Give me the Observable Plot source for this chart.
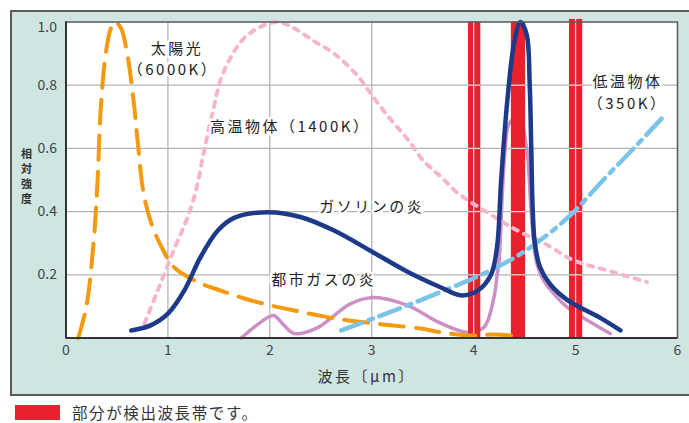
<!DOCTYPE html>
<html><head><meta charset="utf-8">
<script src="https://cdn.jsdelivr.net/npm/d3@7"></script>
<script src="https://cdn.jsdelivr.net/npm/@observablehq/plot@0.6"></script>
<style>
body{margin:0;background:#fff;font-family:"Noto Sans CJK JP","Noto Sans",sans-serif;}
#wrap{position:relative;width:689px;height:423px;overflow:hidden;background:#fff;}
#panel{position:absolute;left:10px;top:10px;width:700px;height:386px;background:#cfe5e2;border:2px solid #5a5a5a;border-right:none;box-sizing:border-box;}
#chart{position:absolute;left:12px;top:12px;}
#legend{position:absolute;left:15px;top:404px;height:16px;display:flex;align-items:center;font-size:15.5px;line-height:16px;color:#333;letter-spacing:1.6px;}
#legend .sw{width:45px;height:15px;background:#e8212c;margin-right:12px;flex:none;}
</style></head>
<body>
<div id="wrap"><div id="panel"></div><div id="chart"></div>
<div id="legend"><div class="sw"></div><span id="legtext"></span></div></div>
<script>
// ---- data ----
const xTicks = [0,1,2,3,4,5,6];
const yTicks = [0.2,0.4,0.6,0.8];
const yTopTick = [1.0];
const gridXs = [1,2,3,4,5];
const gridYs = [0.2,0.4,0.6,0.8];

const bandStart = [3.95,4.37,4.94];
const bandEnd   = [4.07,4.51,5.07];
const bandTop   = [1.0,1.0,1.008];

const sunX = [0.12,0.2,0.27,0.31,0.34,0.39,0.44,0.48,0.54,0.6,0.66,0.71,0.76,0.84,0.95,1.06,1.32,1.52,1.75,2.01,2.24,2.5,2.76,3.0,3.19,3.48,3.68,3.94,4.2,4.46];
const sunY = [0,0.1,0.3,0.5,0.72,0.9,0.98,1.0,0.98,0.9,0.76,0.6,0.46,0.36,0.28,0.224,0.173,0.15,0.125,0.103,0.087,0.07,0.056,0.047,0.04,0.03,0.018,0.008,0.011,0.005];

const hotX = [0.77,0.9,1.06,1.19,1.27,1.36,1.45,1.52,1.62,1.75,1.91,2.08,2.24,2.43,2.63,2.86,3.02,3.19,3.35,3.51,3.68,3.84,4.17,4.43,4.69,4.98,5.31,5.7];
const hotY = [0.046,0.15,0.28,0.38,0.46,0.6,0.73,0.82,0.89,0.95,0.985,1.0,0.98,0.94,0.9,0.83,0.76,0.69,0.63,0.56,0.51,0.46,0.39,0.34,0.3,0.246,0.214,0.177];

const coldX = [2.7,3.0,3.35,3.76,4.1,4.48,4.92,5.3,5.57,5.86];
const coldY = [0.024,0.06,0.103,0.157,0.204,0.27,0.38,0.51,0.6,0.70];

const gasX = [0.64,0.83,1.0,1.16,1.32,1.49,1.65,1.98,2.3,2.63,3.02,3.35,3.68,3.87,4.04,4.17,4.23,4.27,4.33,4.4,4.46,4.52,4.55,4.565,4.58,4.6,4.65,4.75,4.92,5.25,5.44];
const gasY = [0.024,0.04,0.077,0.15,0.256,0.34,0.38,0.398,0.383,0.34,0.27,0.21,0.16,0.135,0.15,0.2,0.29,0.5,0.75,0.94,1.0,0.96,0.8,0.6,0.4,0.3,0.225,0.17,0.12,0.062,0.024];

const cityX = [1.72,1.85,1.98,2.04,2.14,2.24,2.47,2.79,3.02,3.35,3.68,3.94,4.1,4.2,4.23,4.25,4.28,4.31,4.35,4.44,4.52,4.56,4.59,4.62,4.69,4.82,4.92,5.34];
const cityY = [0,0.035,0.065,0.071,0.04,0.014,0.033,0.108,0.128,0.103,0.046,0.018,0.033,0.13,0.2,0.245,0.45,0.6,0.68,0.7,0.6,0.42,0.3,0.236,0.18,0.128,0.097,0.014];

const labelText = ["太陽光","（6000K）","高温物体（1400K）","低温物体","（350K）","ガソリンの炎","都市ガスの炎"];
const labelX = [1.09,1.05,2.2,5.51,5.51,3.0,2.53];
const labelY = [0.913,0.846,0.668,0.808,0.741,0.414,0.183];

const yLabel = "相対強度";
const xLabel = "波長〔μm〕";
const legendText = "部分が検出波長帯です。";

// ---- build ----
const toRows = (xs, ys) => xs.map((x,i)=>({x, y: ys[i]}));
const bands = bandStart.map((s,i)=>({x1:s, x2:bandEnd[i], y2:bandTop[i]}));
const bandGridV = [];
const bandGridH = [];
bands.forEach(b=>{
  gridXs.forEach(g=>{ if (g>b.x1 && g<b.x2) bandGridV.push({x:g, y2:b.y2}); });
  gridYs.forEach(g=>bandGridH.push({y:g, x1:b.x1, x2:b.x2}));
});
const labels = labelText.map((t,i)=>({t, x:labelX[i], y:labelY[i]}));
const font = '"Noto Sans CJK JP","Noto Sans",sans-serif';
const gridColor = "#b4b4b4";

const chart = Plot.plot({
  width: 677, height: 382,
  marginLeft: 53.5, marginRight: 12, marginTop: 9.5, marginBottom: 56.5,
  style: {background: "transparent", fontFamily: font, overflow: "visible"},
  x: {domain: [0,6]},
  y: {domain: [0,1]},
  marks: [
    Plot.frame({fill: "white"}),
    Plot.gridX(gridXs, {stroke: gridColor, strokeOpacity: 1, strokeWidth: 1.3}),
    Plot.gridY(gridYs, {stroke: gridColor, strokeOpacity: 1, strokeWidth: 1.3}),
    Plot.line(toRows(cityX, cityY), {x:"x", y:"y", stroke:"#cc8fc6", strokeWidth:3.5, curve:"catmull-rom"}),
    Plot.rect(bands, {x1:"x1", x2:"x2", y1:0, y2:"y2", fill:"#e8212c"}),
    Plot.ruleX(bandGridV, {x:"x", y1:0, y2:"y2", stroke:"#d9d9d9", strokeWidth:1.3}),
    Plot.ruleY(bandGridH, {y:"y", x1:"x1", x2:"x2", stroke:"#d9d9d9", strokeWidth:1.3}),
    Plot.line(toRows(sunX, sunY), {x:"x", y:"y", stroke:"#f39a10", strokeWidth:4, strokeDasharray:"24,12", curve:"catmull-rom"}),
    Plot.line(toRows(hotX, hotY), {x:"x", y:"y", stroke:"#f5b5cf", strokeWidth:4, strokeDasharray:"5,7", curve:"catmull-rom"}),
    Plot.line(toRows(coldX, coldY), {x:"x", y:"y", stroke:"#7cc3ea", strokeWidth:4.5, strokeDasharray:"22,7,5,7", curve:"catmull-rom"}),
    Plot.line(toRows(gasX, gasY), {x:"x", y:"y", stroke:"#1d3a8a", strokeWidth:4.5, curve:"catmull-rom"}),
    Plot.frame({stroke: "#5a5a5a", strokeWidth: 1.5}),
    Plot.ruleX([0], {stroke:"#333", strokeWidth:2}),
    Plot.ruleY([0], {stroke:"#333", strokeWidth:2}),
    Plot.axisY(yTicks, {tickSize:0, tickPadding:9, tickFormat: d3.format(".1f"), fontSize:14, color:"#444", label:null}),
    Plot.axisY(yTopTick, {tickSize:0, tickPadding:9, tickFormat: d3.format(".1f"), fontSize:14, color:"#444", label:null, dy:6}),
    Plot.axisX(xTicks, {tickSize:0, tickPadding:7, fontSize:14, color:"#444", label:null}),
    Plot.text(labels, {x:"x", y:"y", text:"t", fontSize:15, fill:"#222", stroke:"white", strokeWidth:5, fontFamily: font}),
    Plot.text([yLabel], {text: d => d.split("").join("\n"), y: 0.5, frameAnchor:"left", dx:-45, dy:-4, fontSize:11, fontWeight:"bold", lineHeight:1.35, fill:"#333", fontFamily: font}),
    Plot.text([xLabel], {text: d => d, x: 2.95, frameAnchor:"bottom", dy:44, fontSize:15, fill:"#333", fontFamily: font})
  ]
});
// widen character spacing of the annotation texts and the x-axis label
const textGroups = chart.querySelectorAll('g[aria-label="text"]');
textGroups.forEach((g, i) => {
  const n = textGroups.length;
  if (i === 0 || i === n - 1) g.querySelectorAll("text").forEach(t => t.setAttribute("letter-spacing", "2.5"));
});
document.getElementById("chart").appendChild(chart);
document.getElementById("legtext").textContent = legendText;
</script>
</body></html>
